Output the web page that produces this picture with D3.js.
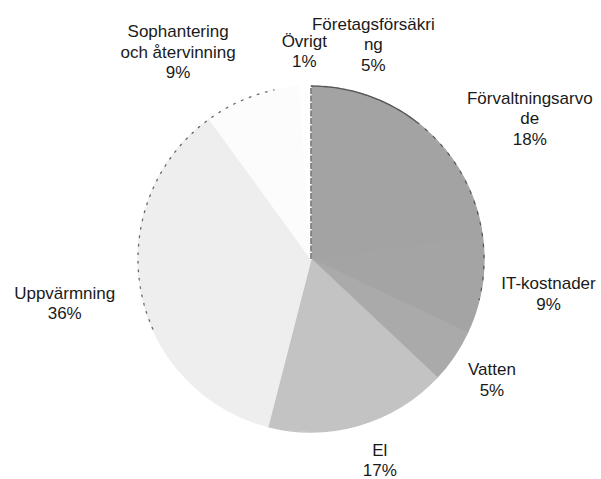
<!DOCTYPE html>
<html>
<head>
<meta charset="utf-8">
<script src="https://cdn.jsdelivr.net/npm/d3@7"></script>
<style>
  html, body { margin: 0; padding: 0; background: #fff; }
  svg { display: block; }
  text { font-family: "Liberation Sans", Arial, sans-serif; fill: #1a1a1a; }
</style>
</head>
<body>
<svg id="chart" width="601" height="479"></svg>
<script>
// ---- data ----
const categories = ["Företagsförsäkring", "Förvaltningsarvode", "IT-kostnader", "Vatten", "El", "Uppvärmning", "Sophantering och återvinning", "Övrigt"];
const labelLines = [["Företagsförsäkri", "ng"], ["Förvaltningsarvo", "de"], ["IT-kostnader"], ["Vatten"], ["El"], ["Uppvärmning"], ["Sophantering", "och återvinning"], ["Övrigt"]];
const values = [5, 18, 9, 5, 17, 36, 9, 1];
const fills = ["#a3a3a3", "#a3a3a3", "#a4a4a4", "#aaaaaa", "#c3c3c3", "#eeeeee", "#fcfcfc", "#ffffff"];
// label shifts (px) from the default outside-end position, as the original moved crowded labels
const labelShift = [[23, 3], [24, 0], [3, 2], [4, 3], [11, 0], [-10, 5], [-49, 0], [0, 2]];

const W = 601, H = 479;
const cx = 311, cy = 259, R = 173;
const fontSize = 17, lineH = 20.5, gap = 17;

const svg = d3.select("#chart");
const g = svg.append("g").attr("transform", `translate(${cx},${cy})`);

const pie = d3.pie().sort(null).value(d => d.v);
const data = values.map((v, i) => ({ v, i, name: categories[i] }));
const arcs = pie(data);
const arc = d3.arc().innerRadius(0).outerRadius(R);

g.selectAll("path.slice")
  .data(arcs)
  .join("path")
  .attr("class", "slice")
  .attr("d", arc)
  .attr("fill", d => fills[d.data.i])
  .attr("stroke", d => fills[d.data.i])
  .attr("stroke-width", 1.2)
  .attr("stroke-linejoin", "round");

// scanned-looking outline along the dark region and left edge
const rim = d3.arc().innerRadius(R).outerRadius(R);
g.append("path")
  .attr("d", rim({ startAngle: arcs[0].startAngle, endAngle: arcs[1].startAngle + 0.35 }))
  .attr("fill", "none").attr("stroke", "#555").attr("stroke-width", 1.3)
  .attr("stroke-dasharray", "5,1.5");
g.append("path")
  .attr("d", rim({ startAngle: arcs[1].startAngle + 0.35, endAngle: arcs[2].endAngle - 0.2 }))
  .attr("fill", "none").attr("stroke", "#555").attr("stroke-width", 1.2)
  .attr("stroke-dasharray", "2,9");
g.append("line")
  .attr("x1", 0).attr("y1", 0).attr("x2", 0).attr("y2", -R)
  .attr("stroke", "#555").attr("stroke-width", 1.3)
  .attr("stroke-dasharray", "6,1.5");
g.append("path")
  .attr("d", rim({ startAngle: arcs[5].startAngle + 0.9, endAngle: arcs[6].endAngle - 0.15 }))
  .attr("fill", "none").attr("stroke", "#666").attr("stroke-width", 1.3)
  .attr("stroke-dasharray", "1.5,7");

// labels
const labels = svg.append("g");
arcs.forEach(d => {
  const i = d.data.i;
  const lines = labelLines[i].concat([values[i] + "%"]);
  const t = labels.append("text")
    .attr("text-anchor", "middle")
    .attr("font-size", fontSize);
  lines.forEach((s, k) => {
    t.append("tspan").attr("x", 0).attr("y", k * lineH).text(s);
  });
  const bb = t.node().getBBox();
  const theta = (d.startAngle + d.endAngle) / 2;
  const sx = Math.sin(theta), sy = -Math.cos(theta);
  const px = cx + (R + gap) * sx, py = cy + (R + gap) * sy;
  const bx = px + sx * bb.width / 2 + labelShift[i][0];
  const by = py + sy * bb.height / 2 + labelShift[i][1];
  const dy = by - (bb.y + bb.height / 2);
  t.attr("transform", `translate(${bx},${dy})`);
});
</script>
</body>
</html>
